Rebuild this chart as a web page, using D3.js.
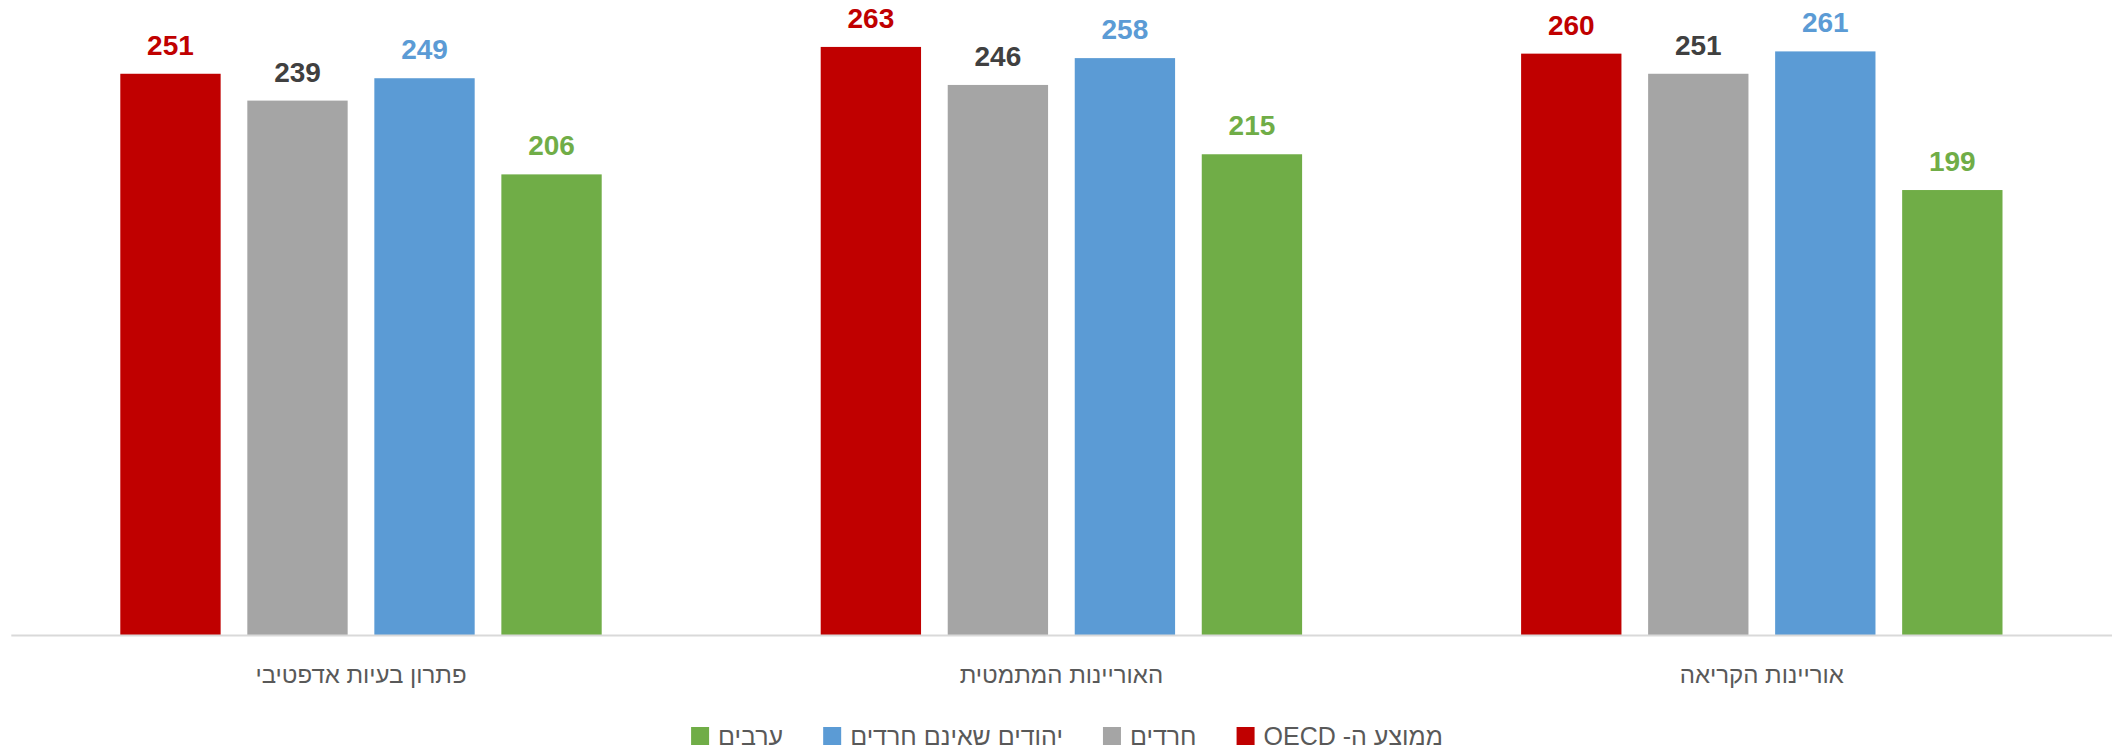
<!DOCTYPE html>
<html lang="he">
<head>
  <meta charset="utf-8">
  <title>אוריינות</title>
  <script src="https://d3js.org/d3.v7.min.js"></script>
  <style>
    body { margin: 0; background: #fff; }
    text { font-family: "Liberation Sans Narrow", "Liberation Sans", sans-serif; }
  </style>
</head>
<body>
<svg width="2112" height="751"></svg>
<script>
// categories, left to right as drawn
var categories = ["פתרון בעיות אדפטיבי", "האוריינות המתמטית", "אוריינות הקריאה"];
var series = ["ממוצע ה- OECD", "חרדים", "יהודים שאינם חרדים", "ערבים"];
var oecd    = [251, 263, 260];
var haredim = [239, 246, 251];
var jewsNonHaredi = [249, 258, 261];
var arabs   = [206, 215, 199];

var barColors   = ["#C00000", "#A5A5A5", "#5B9BD5", "#70AD47"];
var labelColors = ["#C00000", "#404040", "#5B9BD5", "#70AD47"];

var values = [oecd, haredim, jewsNonHaredi, arabs];
var data = categories.map(function(c, i) {
  return { cat: c, vals: series.map(function(s, j) { return { s: s, j: j, v: values[j][i] }; }) };
});

var svg = d3.select("svg");
var baseline = 635;
var pxPerUnit = 2.236;

var x0 = d3.scaleBand().domain(categories).range([10.8, 2112]).padding(0);
var x1 = d3.scaleBand().domain(series).range([109.5, x0.bandwidth() - 109.5]).paddingInner(0.21);
var y = d3.scaleLinear().domain([0, 300]).range([baseline, baseline - 300 * pxPerUnit]);

var groups = svg.selectAll(".grp")
  .data(data)
  .enter().append("g")
  .attr("class", "grp")
  .attr("transform", function(d) { return "translate(" + x0(d.cat) + ",0)"; });

groups.selectAll("rect")
  .data(function(d) { return d.vals; })
  .enter().append("rect")
  .attr("x", function(d) { return x1(d.s); })
  .attr("y", function(d) { return y(d.v); })
  .attr("width", x1.bandwidth())
  .attr("height", function(d) { return baseline - y(d.v); })
  .attr("fill", function(d) { return barColors[d.j]; });

groups.selectAll(".lbl")
  .data(function(d) { return d.vals; })
  .enter().append("text")
  .attr("class", "lbl")
  .attr("x", function(d) { return x1(d.s) + x1.bandwidth() / 2; })
  .attr("y", function(d) { return y(d.v) - 19; })
  .attr("text-anchor", "middle")
  .attr("font-size", 28)
  .attr("font-weight", "bold")
  .attr("fill", function(d) { return labelColors[d.j]; })
  .text(function(d) { return d.v; });

// category axis
var axis = svg.append("g")
  .attr("transform", "translate(0," + baseline + ")")
  .call(d3.axisBottom(x0).tickSize(0).tickPadding(0));
axis.select(".domain").attr("stroke", "#D9D9D9").attr("stroke-width", 2);
axis.selectAll(".tick text")
  .attr("y", 48)
  .attr("dy", 0)
  .attr("direction", "rtl")
  .attr("font-size", 24)
  .attr("font-family", "Liberation Sans Narrow, Liberation Sans, sans-serif")
  .attr("fill", "#595959");

// legend, first series at right
var legend = svg.append("g");
var items = legend.selectAll("g")
  .data(series)
  .enter().append("g");
items.append("rect")
  .attr("width", 18).attr("height", 18)
  .attr("y", -18)
  .attr("fill", function(d, i) { return barColors[i]; });
items.append("text")
  .attr("x", 27)
  .attr("y", 0)
  .attr("font-size", 25)
  .attr("fill", "#595959")
  .attr("direction", "rtl")
  .attr("text-anchor", "end")
  .text(function(d) { return d; });

var gap = 40;
var widths = [];
items.each(function() { widths.push(this.getBBox().width); });
var total = d3.sum(widths) + gap * (widths.length - 1);
var cx = 1067;
var xr = cx + total / 2;
items.attr("transform", function(d, i) {
  xr -= widths[i];
  var t = "translate(" + xr + ",745)";
  xr -= gap;
  return t;
});
</script>
</body>
</html>
